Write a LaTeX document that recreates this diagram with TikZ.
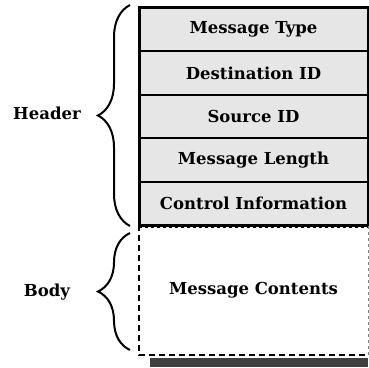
\documentclass[tikz,border=0pt]{standalone}
\usepackage{fontspec}
\setmainfont{DejaVu Serif}
\usepackage{tikz}
\usetikzlibrary{positioning}
\usetikzlibrary{decorations.pathreplacing}
\definecolor{rowgray}{RGB}{230,230,230}
\definecolor{shadowgray}{RGB}{64,64,64}
\tikzset{
    field/.style={draw=black, fill=rowgray, line width=2pt, outer sep=0pt,
        minimum width=229pt, minimum height=43.4pt,
        font=\fontsize{16.5}{18}\selectfont\bfseries},
    bodyfield/.style={outer sep=0pt, minimum width=229pt, minimum height=130pt,
        font=\fontsize{16.5}{18}\selectfont\bfseries},
    curly/.style={decorate, decoration={brace,amplitude=32pt}, line width=2pt},
    partlabel/.style={font=\fontsize{16.5}{18}\selectfont\bfseries},
}

\begin{document}
\begin{tikzpicture}[x=1pt, y=1pt]
	\useasboundingbox (0,0) rectangle (369,367);
	% header fields
	\node[field, anchor=north west] (msgtype) at (139,359) {Message Type};
	\node[field, below=0pt of msgtype] (destid) {Destination ID};
	\node[field, below=0pt of destid] (srcid) {Source ID};
	\node[field, below=0pt of srcid] (msglen) {Message Length};
	\node[field, below=0pt of msglen] (ctrlinfo) {Control Information};
	\draw[line width=3pt] (msgtype.north west) rectangle (ctrlinfo.south east);
	% body
	\node[bodyfield, below=0pt of ctrlinfo] (contents) {Message Contents};
	\fill[shadowgray] ([xshift=11pt,yshift=-3pt]contents.south west) rectangle ([yshift=-12pt]contents.south east);
	\draw[dashed, line width=0.8pt] ([yshift=-2pt]contents.north west) -- ([yshift=-2pt]contents.north east);
	\draw[line width=2.2pt, dash pattern=on 6pt off 4pt] (contents.north west) -- (contents.south west) -- (contents.south east);
	\draw[dashed, line width=0.8pt, gray] (contents.south east) -- (contents.north east);
	% braces
	\draw[curly] (130,141) -- (130,362);
	\draw[curly] (130,17) -- (130,134);
	\node[partlabel] (header) at (47,254) {Header};
	\node[partlabel] (body) at (47,75) {Body};
\end{tikzpicture}
\end{document}
